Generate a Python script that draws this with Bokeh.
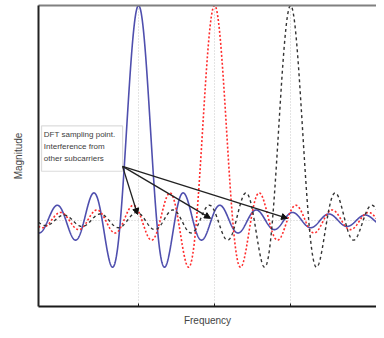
import numpy as np
from bokeh.plotting import figure
from bokeh.models import (LinearAxis, FixedTicker, Arrow, NormalHead, BoxAnnotation,
                          Label, ColumnDataSource)
from bokeh.embed import file_html
from bokeh.resources import INLINE

# ---- data ----
carrier_names = ["blue", "red", "black"]
carrier_centers = [1.0, 2.0, 3.0]          # subcarrier centre frequencies (tick positions)
lobe_zeros_per_spacing = 4.19              # sinc zero crossings per subcarrier spacing
freq_start = -0.316
freq_end = 4.13
mag_start = -0.40
mag_end = 1.0
tick_positions = [1, 2, 3]

annot_text = "DFT sampling point.\nInterference from\nother subcarriers"
arrow_origin = (0.79, 0.252)
arrow_tips_x = [0.987, 1.947, 2.96]
arrow_tips_y = [0.028, 0.01, 0.01]
box_left, box_right, box_top, box_bottom = -0.276, 0.79, 0.44, 0.229

freq = np.linspace(freq_start, freq_end, 1500)

p = figure(width=376, height=330, output_backend="svg", toolbar_location=None,
           x_range=(freq_start, freq_end), y_range=(mag_start, mag_end),
           x_axis_location=None, y_axis_location=None,
           min_border_left=38, min_border_right=0, min_border_top=5, min_border_bottom=24)
p.outline_line_color = None
p.background_fill_color = "white"
p.border_fill_color = "white"

# grid: dotted light gray at subcarrier positions and at zero
p.xgrid.ticker = FixedTicker(ticks=tick_positions)
p.ygrid.ticker = FixedTicker(ticks=[0])
for g in (p.xgrid, p.ygrid):
    g.grid_line_color = "#c8c8c8"
    g.grid_line_dash = "1 2"
    g.grid_line_width = 1

# axes
xb = LinearAxis(ticker=FixedTicker(ticks=tick_positions, minor_ticks=[]),
                axis_label="Frequency")
xb.major_label_overrides = {t: "" for t in tick_positions}
xb.major_label_text_font_size = "0px"
xb.major_label_standoff = 0
xb.major_tick_in = 3
xb.major_tick_out = 0
xb.minor_tick_in = 0
xb.minor_tick_out = 0
xb.axis_line_width = 2
xb.axis_line_color = "#1a1a1a"
xb.major_tick_line_color = "#1a1a1a"
xb.axis_label_standoff = 8
xb.axis_label_text_font = "Liberation Sans"
xb.axis_label_text_font_size = "10px"
xb.axis_label_text_font_style = "normal"
xb.axis_label_text_color = "#444444"
p.add_layout(xb, "below")

yl = LinearAxis(ticker=FixedTicker(ticks=[]), axis_label="Magnitude")
yl.major_label_text_font_size = "0px"
yl.major_label_standoff = 0
yl.major_tick_in = 0
yl.major_tick_out = 0
yl.minor_tick_in = 0
yl.minor_tick_out = 0
yl.axis_line_width = 2
yl.axis_line_color = "#222222"
yl.axis_label_standoff = 15
yl.axis_label_text_font = "Liberation Sans"
yl.axis_label_text_font_size = "10px"
yl.axis_label_text_font_style = "normal"
yl.axis_label_text_color = "#444444"
p.add_layout(yl, "left")

xt = LinearAxis(ticker=FixedTicker(ticks=[]))
xt.major_label_text_font_size = "0px"
xt.major_label_standoff = 0
xt.major_tick_in = 0
xt.major_tick_out = 0
xt.minor_tick_in = 0
xt.minor_tick_out = 0
xt.axis_line_width = 2
xt.axis_line_color = "#808080"
p.add_layout(xt, "above")

# subcarrier spectra (sinc shaped)
styles = {
    "blue": dict(line_color="#4f4fae", line_width=1.6, line_dash="solid"),
    "red": dict(line_color="#ff2b2b", line_width=1.6, line_dash="2 2"),
    "black": dict(line_color="#333333", line_width=1.4, line_dash="3 3"),
}
for name, fc in zip(carrier_names, carrier_centers):
    mag = np.sinc(lobe_zeros_per_spacing * (freq - fc))
    src = ColumnDataSource(dict(f=freq, m=mag))
    p.line("f", "m", source=src, **styles[name])

# annotation box
box = BoxAnnotation(left=box_left, right=box_right, top=box_top, bottom=box_bottom,
                    fill_color="white", fill_alpha=1.0, line_color="#8a8a8a",
                    line_width=1.2)
p.add_layout(box)
lab = Label(x=box_left + 0.03, y=box_top - 0.02, text=annot_text,
            text_font="Liberation Sans", text_font_size="8px", text_color="#404040",
            text_baseline="top", text_align="left", text_line_height=1.35)
p.add_layout(lab)

for tx, ty in zip(arrow_tips_x, arrow_tips_y):
    p.add_layout(Arrow(x_start=arrow_origin[0], y_start=arrow_origin[1], x_end=tx, y_end=ty,
                       line_color="#222222", line_width=1.3,
                       end=NormalHead(size=6, fill_color="#111111", line_color="#111111")))

open("out.html", "w").write(file_html(p, INLINE))
